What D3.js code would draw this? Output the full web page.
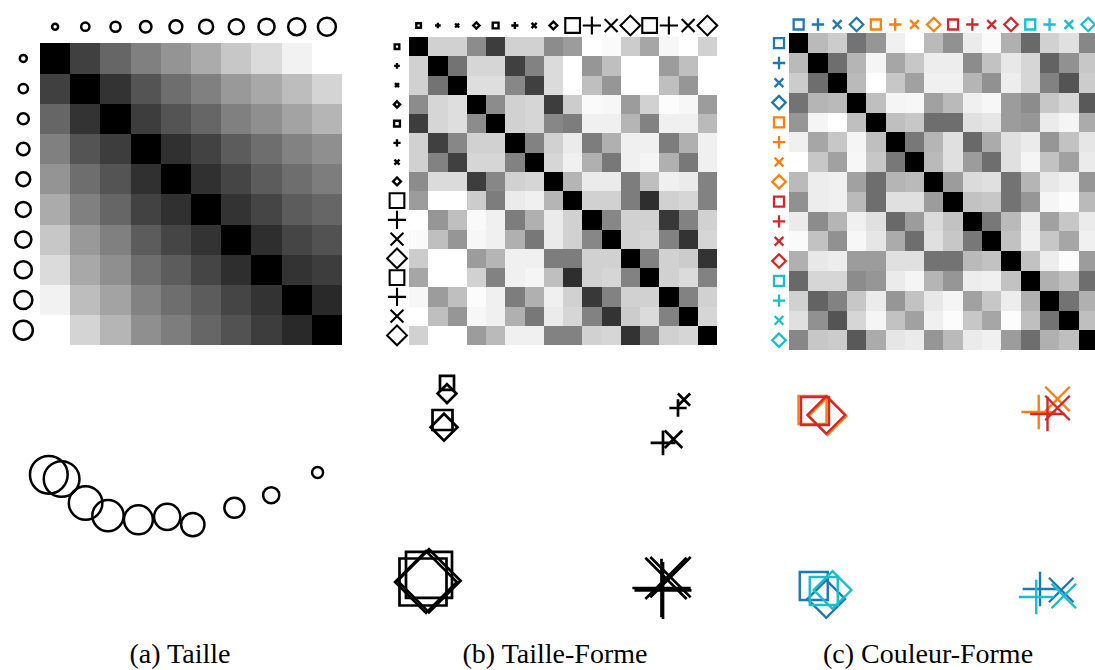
<!DOCTYPE html>
<html>
<head>
<meta charset="utf-8">
<script src="https://cdn.jsdelivr.net/npm/d3@7"></script>
<style>
  html, body { margin: 0; padding: 0; background: #fff; }
  svg { display: block; }
</style>
</head>
<body>
<svg id="fig" width="1095" height="670"></svg>
<script>
// ---------------- data ----------------
// (a) Taille : 10 size levels of a circle
const sizeLevelsA = [1, 2, 3, 4, 5, 6, 7, 8, 9, 10];
// perceived dissimilarity (0 = identical, 1 = most different)
const dissimA = [
  [0.00, 0.25, 0.40, 0.50, 0.58, 0.67, 0.78, 0.86, 0.95, 1.00],
  [0.25, 0.00, 0.20, 0.33, 0.43, 0.50, 0.60, 0.66, 0.74, 0.83],
  [0.40, 0.20, 0.00, 0.24, 0.33, 0.40, 0.50, 0.56, 0.64, 0.71],
  [0.50, 0.33, 0.24, 0.00, 0.19, 0.26, 0.36, 0.43, 0.51, 0.56],
  [0.58, 0.43, 0.33, 0.19, 0.00, 0.19, 0.27, 0.36, 0.43, 0.49],
  [0.67, 0.50, 0.40, 0.26, 0.19, 0.00, 0.20, 0.27, 0.36, 0.40],
  [0.78, 0.60, 0.50, 0.36, 0.27, 0.20, 0.00, 0.18, 0.27, 0.32],
  [0.86, 0.66, 0.56, 0.43, 0.36, 0.27, 0.18, 0.00, 0.20, 0.24],
  [0.95, 0.74, 0.64, 0.51, 0.43, 0.36, 0.27, 0.20, 0.00, 0.16],
  [1.00, 0.83, 0.71, 0.56, 0.49, 0.40, 0.32, 0.24, 0.16, 0.00]
];
// 2-D MDS embedding
const mdsAx = [0.86, 0.57, 0.34, 0.08, -0.08, -0.26, -0.45, -0.59, -0.74, -0.82];
const mdsAy = [0.46, 0.08, -0.13, -0.41, -0.28, -0.33, -0.26, -0.05, 0.35, 0.42];

// (b) Taille-Forme : 4 shapes x 4 size groups
const shapesB = ["square", "plus", "times", "diamond",
                 "square", "plus", "times", "diamond",
                 "square", "plus", "times", "diamond",
                 "square", "plus", "times", "diamond"];
const sizeGroupsB = [0, 0, 0, 0, 1, 1, 1, 1, 2, 2, 2, 2, 3, 3, 3, 3];
// dissimilarity in percent
const dissimB = [
  [0, 82, 82, 55, 24, 82, 82, 55, 61, 100, 98, 80, 65, 97, 100, 82],
  [82, 0, 45, 84, 84, 25, 51, 86, 100, 59, 75, 100, 100, 61, 75, 100],
  [82, 45, 0, 87, 87, 53, 25, 86, 100, 75, 59, 100, 100, 75, 59, 100],
  [55, 84, 87, 0, 55, 82, 84, 24, 80, 98, 97, 61, 82, 99, 97, 61],
  [24, 84, 87, 55, 0, 82, 84, 53, 49, 94, 94, 71, 51, 94, 94, 73],
  [82, 25, 53, 82, 82, 0, 51, 82, 92, 49, 69, 94, 94, 49, 69, 94],
  [82, 51, 25, 84, 84, 51, 0, 84, 94, 69, 47, 94, 96, 69, 47, 94],
  [55, 86, 86, 24, 53, 82, 84, 0, 71, 92, 92, 49, 75, 94, 92, 51],
  [61, 100, 100, 80, 49, 92, 94, 71, 0, 82, 82, 49, 18, 82, 84, 51],
  [100, 59, 75, 98, 94, 49, 69, 92, 82, 0, 53, 82, 82, 22, 51, 82],
  [98, 75, 59, 97, 94, 69, 47, 92, 82, 53, 0, 82, 84, 51, 20, 84],
  [80, 100, 100, 61, 71, 94, 94, 49, 49, 82, 82, 0, 51, 82, 80, 20],
  [65, 100, 100, 82, 51, 94, 96, 75, 18, 82, 84, 51, 0, 82, 86, 51],
  [97, 61, 75, 99, 94, 49, 69, 94, 82, 22, 51, 82, 82, 0, 51, 82],
  [100, 75, 59, 97, 94, 69, 47, 92, 84, 51, 20, 80, 86, 51, 0, 84],
  [82, 100, 100, 61, 73, 94, 94, 51, 51, 82, 84, 20, 51, 82, 84, 0]
];
const mdsBx = [-0.72, 0.82, 0.86, -0.72, -0.75, 0.72, 0.79, -0.74, -0.88, 0.71, 0.74, -0.84, -0.84, 0.72, 0.77, -0.86];
const mdsBy = [0.81, 0.60, 0.67, 0.72, 0.50, 0.31, 0.34, 0.44, -0.85, -0.90, -0.82, -0.84, -0.79, -0.92, -0.81, -0.85];

// (c) Couleur-Forme : 4 shapes x 4 colours
const shapesC = shapesB.slice();
const colorGroupsC = ["bleu", "bleu", "bleu", "bleu",
                      "orange", "orange", "orange", "orange",
                      "rouge", "rouge", "rouge", "rouge",
                      "cyan", "cyan", "cyan", "cyan"];
const dissimC = [
  [0, 73, 80, 45, 59, 94, 100, 73, 57, 92, 98, 69, 41, 82, 88, 53],
  [73, 0, 43, 71, 96, 65, 78, 93, 93, 55, 76, 91, 84, 39, 57, 78],
  [80, 43, 0, 73, 100, 78, 63, 94, 94, 71, 57, 93, 84, 51, 33, 80],
  [45, 71, 73, 0, 75, 96, 97, 63, 73, 94, 97, 61, 55, 78, 84, 35],
  [59, 96, 100, 75, 0, 75, 78, 43, 43, 88, 90, 61, 59, 92, 96, 67],
  [94, 65, 78, 96, 75, 0, 47, 71, 88, 41, 67, 88, 92, 59, 76, 90],
  [100, 78, 63, 97, 78, 47, 0, 73, 88, 61, 43, 88, 96, 76, 63, 92],
  [73, 93, 94, 63, 43, 71, 73, 0, 61, 86, 88, 45, 71, 91, 94, 59],
  [57, 93, 94, 73, 43, 88, 88, 61, 0, 76, 78, 45, 59, 96, 99, 73],
  [92, 55, 71, 94, 88, 41, 61, 86, 76, 0, 47, 73, 93, 63, 78, 92],
  [98, 76, 57, 97, 90, 67, 43, 88, 78, 47, 0, 76, 94, 78, 65, 94],
  [69, 91, 93, 61, 61, 88, 88, 45, 45, 73, 76, 0, 76, 93, 99, 61],
  [41, 84, 84, 55, 59, 92, 96, 71, 59, 93, 94, 76, 0, 69, 75, 43],
  [82, 39, 51, 78, 92, 59, 76, 91, 96, 63, 78, 93, 69, 0, 45, 69],
  [88, 57, 33, 84, 96, 76, 63, 94, 99, 78, 65, 99, 75, 45, 0, 75],
  [53, 78, 80, 35, 67, 90, 92, 59, 73, 92, 94, 61, 43, 69, 75, 0]
];
const mdsCx = [-0.97, 0.84, 1.01, -0.87, -0.98, 0.83, 0.98, -0.86, -0.96, 0.90, 0.98, -0.87, -0.89, 0.81, 1.03, -0.82];
const mdsCy = [-0.86, -0.89, -0.90, -0.99, 0.90, 0.88, 1.01, 0.84, 0.89, 0.86, 0.92, 0.85, -0.91, -0.97, -0.96, -0.90];

const captions = ["(a) Taille", "(b) Taille-Forme", "(c) Couleur-Forme"];

// ---------------- helpers ----------------
const svg = d3.select("#fig");
svg.append("rect").attr("width", 1095).attr("height", 670).attr("fill", "#fff");

// glyph outline centred on the origin; s = nominal marker size
function glyph(shape, s) {
  const p = d3.path();
  if (shape === "square") {
    p.rect(-s / 2, -s / 2, s, s);
  } else if (shape === "diamond") {
    const h = s * 0.95 / Math.SQRT2;
    p.moveTo(0, -h); p.lineTo(h, 0); p.lineTo(0, h); p.lineTo(-h, 0); p.closePath();
  } else if (shape === "plus") {
    const h = s * 0.62;
    p.moveTo(-h, 0); p.lineTo(h, 0); p.moveTo(0, -h); p.lineTo(0, h);
  } else if (shape === "times") {
    const h = s * 0.62 / Math.SQRT2;
    p.moveTo(-h, -h); p.lineTo(h, h); p.moveTo(-h, h); p.lineTo(h, -h);
  }
  return p.toString();
}

const grayA = d3.scaleLinear().domain([0, 1]).range(["#000", "#fff"]);
const grayPct = d3.scaleLinear().domain([0, 100]).range(["#000", "#fff"]);

function drawMatrix(g, matrix, xBand, yBand, color) {
  const cells = [];
  matrix.forEach((row, i) => row.forEach((v, j) => cells.push({ i, j, v })));
  g.selectAll("rect.cell").data(cells).join("rect")
    .attr("class", "cell")
    .attr("x", d => xBand(d.j))
    .attr("y", d => yBand(d.i))
    .attr("width", xBand.bandwidth())
    .attr("height", yBand.bandwidth())
    .attr("fill", d => color(d.v))
    .attr("shape-rendering", "crispEdges");
}

// ---------------- (a) Taille ----------------
{
  const g = svg.append("g");
  const idx = d3.range(sizeLevelsA.length);
  const xb = d3.scaleBand().domain(idx).range([40, 342]);
  const yb = d3.scaleBand().domain(idx).range([43.3, 345.3]);
  drawMatrix(g, dissimA, xb, yb, grayA);

  const rLabel = d3.scalePow().exponent(0.5).domain([1, 10]).range([3, 9]);
  g.selectAll("circle.top").data(sizeLevelsA).join("circle")
    .attr("class", "top")
    .attr("cx", (d, i) => xb(i) + xb.bandwidth() / 2)
    .attr("cy", 26.7)
    .attr("r", d => rLabel(d))
    .attr("fill", "none").attr("stroke", "#000").attr("stroke-width", 2.5);
  g.selectAll("circle.left").data(sizeLevelsA).join("circle")
    .attr("class", "left")
    .attr("cx", 23.3)
    .attr("cy", (d, i) => yb(i) + yb.bandwidth() / 2)
    .attr("r", d => rLabel(d) + 0.5)
    .attr("fill", "none").attr("stroke", "#000").attr("stroke-width", 2.5);

  // MDS projection
  const x = d3.scaleLinear().domain([-1, 1]).range([20, 340]);
  const y = d3.scaleLinear().domain([-1, 1]).range([560, 440]);
  const rPt = d3.scalePow().exponent(0.5).domain([1, 10]).range([5.5, 18.85]);
  const pts = sizeLevelsA.map((lv, i) => ({ lv, x: mdsAx[i], y: mdsAy[i] }));
  g.selectAll("circle.pt").data(pts).join("circle")
    .attr("class", "pt")
    .attr("cx", d => x(d.x)).attr("cy", d => y(d.y))
    .attr("r", d => rPt(d.lv))
    .attr("fill", "none").attr("stroke", "#000").attr("stroke-width", 2.5);
}

// ---------------- (b) Taille-Forme ----------------
{
  const g = svg.append("g");
  const idx = d3.range(shapesB.length);
  const xb = d3.scaleBand().domain(idx).range([409, 717]);
  const yb = d3.scaleBand().domain(idx).range([37, 345]);
  drawMatrix(g, dissimB, xb, yb, grayPct);

  const labelSize = d3.scaleOrdinal().domain([0, 1, 2, 3]).range([4.6, 5.8, 14.7, 14.7]);
  const labelStroke = d3.scaleOrdinal().domain([0, 1, 2, 3]).range([2.4, 2.4, 2.1, 2.1]);
  const items = shapesB.map((s, i) => ({ shape: s, grp: sizeGroupsB[i], i }));
  g.selectAll("path.top").data(items).join("path")
    .attr("class", "top")
    .attr("transform", d => `translate(${xb(d.i) + xb.bandwidth() / 2},25.5)`)
    .attr("d", d => glyph(d.shape, labelSize(d.grp)))
    .attr("fill", "none").attr("stroke", "#000").attr("stroke-width", d => labelStroke(d.grp))
    .attr("stroke-linejoin", "miter");
  g.selectAll("path.left").data(items).join("path")
    .attr("class", "left")
    .attr("transform", d => `translate(397,${yb(d.i) + yb.bandwidth() / 2})`)
    .attr("d", d => glyph(d.shape, labelSize(d.grp)))
    .attr("fill", "none").attr("stroke", "#000").attr("stroke-width", d => labelStroke(d.grp))
    .attr("stroke-linejoin", "miter");

  const x = d3.scaleLinear().domain([-1, 1]).range([405, 705]);
  const y = d3.scaleLinear().domain([-1, 1]).range([600, 360]);
  const ptSize = d3.scaleOrdinal().domain([0, 1, 2, 3]).range([14, 20, 47, 46]);
  const pts = items.map(d => ({ ...d, x: mdsBx[d.i], y: mdsBy[d.i] }));
  g.selectAll("path.pt").data(pts).join("path")
    .attr("class", "pt")
    .attr("transform", d => `translate(${x(d.x)},${y(d.y)})`)
    .attr("d", d => glyph(d.shape, ptSize(d.grp)))
    .attr("fill", "none").attr("stroke", "#000").attr("stroke-width", 2.7)
    .attr("stroke-linejoin", "miter");
}

// ---------------- (c) Couleur-Forme ----------------
{
  const g = svg.append("g");
  const idx = d3.range(shapesC.length);
  const xb = d3.scaleBand().domain(idx).range([789, 1097.8]);
  const yb = d3.scaleBand().domain(idx).range([33.3, 350.1]);
  drawMatrix(g, dissimC, xb, yb, grayPct);

  const color = d3.scaleOrdinal()
    .domain(["bleu", "orange", "rouge", "cyan"])
    .range(["#1f77b4", "#ff7f0e", "#d62728", "#17becf"]);
  const items = shapesC.map((s, i) => ({ shape: s, col: colorGroupsC[i], i }));

  g.selectAll("path.top").data(items).join("path")
    .attr("class", "top")
    .attr("transform", d => `translate(${xb(d.i) + xb.bandwidth() / 2},24.5)`)
    .attr("d", d => glyph(d.shape, 10))
    .attr("fill", "none").attr("stroke", d => color(d.col)).attr("stroke-width", 2.3);
  g.selectAll("path.left").data(items).join("path")
    .attr("class", "left")
    .attr("transform", d => `translate(779,${yb(d.i) + yb.bandwidth() / 2})`)
    .attr("d", d => glyph(d.shape, 10))
    .attr("fill", "none").attr("stroke", d => color(d.col)).attr("stroke-width", 2.3);

  const x = d3.scaleLinear().domain([-1, 1]).range([810, 1060]);
  const y = d3.scaleLinear().domain([-1, 1]).range([600, 400]);
  const pts = items.map(d => ({ ...d, x: mdsCx[d.i], y: mdsCy[d.i] }));
  g.selectAll("path.pt").data(pts).join("path")
    .attr("class", "pt")
    .attr("transform", d => `translate(${x(d.x)},${y(d.y)})`)
    .attr("d", d => glyph(d.shape, 28))
    .attr("fill", "none").attr("stroke", d => color(d.col)).attr("stroke-width", 2.4);
}

// ---------------- captions ----------------
const capX = d3.scaleOrdinal().domain(captions).range([180, 555, 928]);
svg.selectAll("text.cap").data(captions).join("text")
  .attr("class", "cap")
  .attr("x", d => capX(d))
  .attr("y", 663)
  .attr("text-anchor", "middle")
  .attr("font-family", "'Liberation Serif', 'Times New Roman', serif")
  .attr("font-size", 28)
  .attr("fill", "#000")
  .text(d => d);
</script>
</body>
</html>
